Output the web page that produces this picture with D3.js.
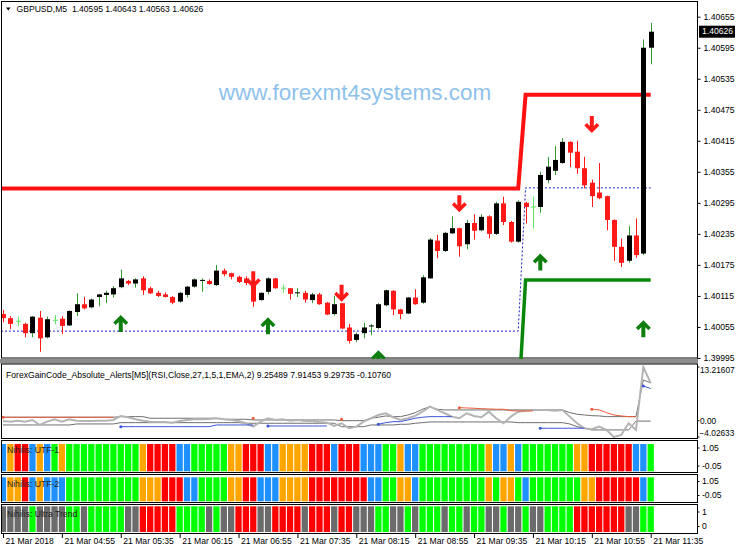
<!DOCTYPE html>
<html><head><meta charset="utf-8">
<script src="https://cdn.jsdelivr.net/npm/d3@7"></script>
<style>
body{margin:0;background:#fff}
svg{display:block}
text{font-family:"Liberation Sans",Arial,sans-serif;font-size:8.6px;fill:#000;white-space:pre}
</style>
</head><body><svg id="c" width="736" height="552"></svg>
<script>
// ---------------- DATA ----------------
const symbolTitle = "GBPUSD,M5  1.40595 1.40643 1.40563 1.40626";
const indicatorTitle = "ForexGainCode_Absolute_Alerts[M5](RSI,Close,27,1,5,1,EMA,2) 9.25489 7.91453 9.29735 -0.10760";
const watermark = "www.forexmt4systems.com";

const opens = [1.40080,1.40072,1.40066,1.40061,1.40043,1.40073,1.40035,1.40068,1.40071,1.40058,
1.40084,1.40099,1.40093,1.40113,1.40117,1.40118,1.40132,1.40144,1.40139,1.40149,
1.40130,1.40121,1.40118,1.40113,1.40104,1.40117,1.40133,1.40144,1.40144,1.40136,
1.40164,1.40159,1.40152,1.40149,1.40136,1.40107,1.40123,1.40149,1.40130,1.40130,
1.40121,1.40121,1.40107,1.40118,1.40102,1.40080,1.40101,1.40054,1.40030,1.40043,
1.40057,1.40053,1.40097,1.40125,1.40089,1.40081,1.40112,1.40102,1.40149,1.40222,
1.40202,1.40236,1.40246,1.40215,1.40256,1.40242,1.40269,1.40235,1.40294,1.40258,
1.40220,1.40295,1.40287,1.40287,1.40339,1.40357,1.40372,1.40413,1.40394,1.40362,
1.40334,1.40315,1.40308,1.40262,1.40210,1.40183,1.40232,1.40197,1.40595];
const highs = [1.40088,1.40076,1.40075,1.40063,1.40076,1.40086,1.40075,1.40078,1.40076,1.40087,
1.40120,1.40113,1.40110,1.40119,1.40125,1.40134,1.40166,1.40146,1.40149,1.40153,
1.40133,1.40125,1.40122,1.40115,1.40123,1.40134,1.40149,1.40149,1.40147,1.40175,
1.40168,1.40160,1.40154,1.40153,1.40152,1.40122,1.40151,1.40150,1.40137,1.40130,
1.40130,1.40125,1.40121,1.40121,1.40103,1.40115,1.40101,1.40061,1.40044,1.40063,
1.40061,1.40101,1.40127,1.40126,1.40090,1.40113,1.40128,1.40155,1.40227,1.40233,
1.40239,1.40269,1.40247,1.40262,1.40273,1.40273,1.40271,1.40297,1.40307,1.40260,
1.40300,1.40297,1.40307,1.40355,1.40384,1.40405,1.40420,1.40414,1.40415,1.40384,
1.40340,1.40372,1.40309,1.40263,1.40226,1.40250,1.40265,1.40611,1.40643];
const lows = [1.40064,1.40051,1.40057,1.40035,1.40035,1.40007,1.40033,1.40060,1.40041,1.40057,
1.40076,1.40089,1.40091,1.40095,1.40101,1.40112,1.40130,1.40136,1.40131,1.40117,
1.40119,1.40113,1.40112,1.40099,1.40102,1.40112,1.40131,1.40123,1.40137,1.40134,
1.40153,1.40147,1.40140,1.40136,1.40094,1.40106,1.40118,1.40129,1.40121,1.40108,
1.40113,1.40102,1.40101,1.40098,1.40078,1.40077,1.40051,1.40023,1.40026,1.40033,
1.40039,1.40051,1.40095,1.40078,1.40070,1.40080,1.40098,1.40100,1.40148,1.40188,
1.40200,1.40235,1.40191,1.40205,1.40224,1.40240,1.40226,1.40233,1.40252,1.40218,
1.40218,1.40255,1.40245,1.40276,1.40333,1.40349,1.40371,1.40364,1.40351,1.40323,
1.40287,1.40302,1.40242,1.40183,1.40171,1.40179,1.40189,1.40194,1.40563];
const closes = [1.40072,1.40061,1.40066,1.40043,1.40075,1.40033,1.40070,1.40068,1.40057,1.40086,
1.40099,1.40091,1.40108,1.40118,1.40121,1.40130,1.40149,1.40139,1.40147,1.40126,
1.40120,1.40115,1.40113,1.40102,1.40121,1.40133,1.40147,1.40146,1.40138,1.40164,
1.40157,1.40152,1.40142,1.40140,1.40104,1.40121,1.40149,1.40130,1.40130,1.40119,
1.40122,1.40108,1.40118,1.40099,1.40079,1.40099,1.40052,1.40028,1.40041,1.40054,
1.40058,1.40099,1.40126,1.40089,1.40080,1.40112,1.40099,1.40151,1.40224,1.40202,
1.40237,1.40246,1.40211,1.40256,1.40241,1.40268,1.40235,1.40294,1.40258,1.40220,
1.40297,1.40287,1.40287,1.40349,1.40365,1.40378,1.40413,1.40392,1.40362,1.40329,
1.40308,1.40304,1.40262,1.40210,1.40179,1.40232,1.40194,1.40595,1.40626];

const resistanceLevel = [1.40323,1.40323,1.40323,1.40323,1.40323,1.40323,1.40323,1.40323,1.40323,1.40323,
1.40323,1.40323,1.40323,1.40323,1.40323,1.40323,1.40323,1.40323,1.40323,1.40323,
1.40323,1.40323,1.40323,1.40323,1.40323,1.40323,1.40323,1.40323,1.40323,1.40323,
1.40323,1.40323,1.40323,1.40323,1.40323,1.40323,1.40323,1.40323,1.40323,1.40323,
1.40323,1.40323,1.40323,1.40323,1.40323,1.40323,1.40323,1.40323,1.40323,1.40323,
1.40323,1.40323,1.40323,1.40323,1.40323,1.40323,1.40323,1.40323,1.40323,1.40323,
1.40323,1.40323,1.40323,1.40323,1.40323,1.40323,1.40323,1.40323,1.40323,1.40323,
1.40323,1.40504,1.40504,1.40504,1.40504,1.40504,1.40504,1.40504,1.40504,1.40504,
1.40504,1.40504,1.40504,1.40504,1.40504,1.40504,1.40504,1.40504,1.40504];
const supportLevel = [null,null,null,null,null,null,null,null,null,null,
null,null,null,null,null,null,null,null,null,null,
null,null,null,null,null,null,null,null,null,null,
null,null,null,null,null,null,null,null,null,null,
null,null,null,null,null,null,null,null,null,null,
null,null,null,null,null,null,null,null,null,null,
null,null,null,null,null,null,null,null,null,null,
1.39900,1.40146,1.40146,1.40146,1.40146,1.40146,1.40146,1.40146,1.40146,1.40146,
1.40146,1.40146,1.40146,1.40146,1.40146,1.40146,1.40146,1.40146,1.40146];
const dottedLevel = [1.40047,1.40047,1.40047,1.40047,1.40047,1.40047,1.40047,1.40047,1.40047,1.40047,
1.40047,1.40047,1.40047,1.40047,1.40047,1.40047,1.40047,1.40047,1.40047,1.40047,
1.40047,1.40047,1.40047,1.40047,1.40047,1.40047,1.40047,1.40047,1.40047,1.40047,
1.40047,1.40047,1.40047,1.40047,1.40047,1.40047,1.40047,1.40047,1.40047,1.40047,
1.40047,1.40047,1.40047,1.40047,1.40047,1.40047,1.40047,1.40047,1.40047,1.40047,
1.40047,1.40047,1.40047,1.40047,1.40047,1.40047,1.40047,1.40047,1.40047,1.40047,
1.40047,1.40047,1.40047,1.40047,1.40047,1.40047,1.40047,1.40047,1.40047,1.40047,
1.40047,1.40324,1.40324,1.40324,1.40324,1.40324,1.40324,1.40324,1.40324,1.40324,
1.40324,1.40324,1.40324,1.40324,1.40324,1.40324,1.40324,1.40324,1.40324];

const upArrowBars = [17,37,52,74,88];
const upArrowPrices = [1.40078,1.40074,1.40010,1.40197,1.40068];
const downArrowBars = [35,47,63,81];
const downArrowPrices = [1.40130,1.40104,1.40277,1.40430];

const priceTicks = [1.40655,1.40595,1.40535,1.40475,1.40415,1.40355,1.40295,1.40235,1.40175,1.40115,1.40055,1.39995];
const lastPrice = 1.40626;

const timeTickBars = [1,9,17,25,33,41,49,57,65,73,81,89];
const timeLabels = ["21 Mar 2018","21 Mar 04:55","21 Mar 05:35","21 Mar 06:15","21 Mar 06:55","21 Mar 07:35",
"21 Mar 08:15","21 Mar 08:55","21 Mar 09:35","21 Mar 10:15","21 Mar 10:55","21 Mar 11:35"];

// oscillator sub-window
const oscMain = [-0.07,-0.25,0,-0.25,0.17,-1.06,-0.25,0.34,-0.25,0.34,
0,-0.07,-0.07,0,0,0.17,1.16,0.84,0.34,0,
-0.25,-0.32,-0.32,-0.49,-0.07,0.17,0.34,0.34,0.42,0.59,
0.34,0.17,-0.07,-0.64,-1.48,-0.25,0.59,0.17,0.34,0,
0.17,-0.07,-0.07,-0.32,-0.49,-1.31,-0.64,-1.87,-1.48,-0.25,
0.59,1.40,1.82,0.84,0.17,0.59,1.16,2.22,3.45,2.64,
1.82,0.99,0.59,1.82,1.16,0.84,2.22,0.59,-0.64,0.99,
2.22,2.46,2.64,2.64,2.64,2.46,2.64,0.99,-0.64,-1.87,
-2.12,-1.48,-2.29,-4.03,-3.52,-0.64,-2.29,13.22,9.25];
const oscUpper = [0.84,0.84,0.84,0.84,0.84,0.84,0.84,0.84,0.84,0.84,
0.84,0.84,0.84,0.84,0.84,0.84,0.99,0.99,0.99,0.99,
0.59,0.59,0.59,0.59,0.59,0.59,0.59,0.59,0.59,0.59,
0.34,0.34,0.34,0.34,0.17,0.17,0.17,0.17,0.17,0.17,
0.17,0.17,0.17,0.17,0.17,0.17,0,0,0,0,
0.59,0.84,1.16,0.99,0.99,1.40,1.97,2.81,3.45,2.81,
2.64,2.64,2.64,2.64,2.64,2.64,2.64,2.64,2.64,2.64,
2.64,2.64,2.64,2.64,2.64,2.64,2.64,1.97,1.58,1.40,
1.23,1.16,0.99,0.99,0.99,0.99,0.99,10.02,9.30];
const oscLower = [-1.06,-1.06,-1.06,-1.06,-1.06,-1.06,-1.06,-1.06,-1.06,-1.06,
-0.81,-0.81,-0.81,-0.81,-0.81,-0.81,-0.49,-0.49,-0.49,-0.49,
-0.49,-0.49,-0.49,-0.49,-0.49,-0.49,-0.49,-0.49,-0.49,-0.49,
-0.49,-0.49,-0.49,-0.64,-0.64,-0.64,-0.64,-0.64,-0.64,-0.64,
-0.64,-0.64,-0.64,-0.64,-0.64,-0.64,-1.48,-1.48,-1.48,-1.48,
-1.06,-1.06,-1.06,-1.06,-0.89,-0.89,-0.64,-0.49,-0.32,-0.32,
-0.32,-0.32,-0.32,-0.32,-0.32,-0.32,-0.32,-0.32,-0.32,-0.32,
-0.49,-0.49,-0.49,-0.49,-0.49,-0.49,-0.49,-0.81,-1.48,-1.87,
-2.29,-2.29,-2.29,-2.29,-2.29,-2.29,-0.11,-0.11,-0.11];
const oscSell = [0.84,0.84,0.84,0.84,0.84,0.84,0.84,0.84,0.84,0.84,
0.84,0.84,0.84,0.84,0.84,0.84,null,null,null,null,
null,null,null,null,null,null,null,null,null,null,
null,null,null,null,0.59,null,null,null,null,null,
null,null,null,null,null,null,0.34,null,null,null,
null,null,null,null,null,null,null,null,null,null,
null,null,3.20,3.13,3.05,2.96,2.88,2.81,2.81,2.46,
2.39,2.39,2.39,null,null,null,null,null,null,null,
2.81,2.64,1.97,1.40,1.16,0.99,0.99,null,null];
const oscBuy = [null,null,null,null,null,null,null,null,null,null,
null,null,null,null,null,null,-1.48,-1.48,-1.48,-1.48,
-1.48,-1.48,-1.48,-1.48,-1.48,-1.48,-1.48,-1.48,-1.48,-1.06,
-1.06,-1.06,-1.06,-1.06,-1.06,null,-1.31,-1.31,-1.31,-1.31,
-1.31,-1.31,-1.31,-1.31,-1.31,null,null,null,null,null,
null,-0.89,-0.49,-0.25,-0.25,0.17,0.59,0.84,0.99,0.99,
0.99,0.99,null,null,null,null,null,null,null,null,
null,null,null,-1.87,-1.87,-1.87,-1.87,-1.87,-1.87,-1.87,
null,null,null,null,null,null,null,8.55,7.91];
const oscMax = 13.21607, oscMin = -4.02633;

// histogram sub-windows: G=green R=red O=orange B=blue Y=grey
const utf1Colors = "BORRBOBGO"+"GGGGGGGGGG"+"O"+"RRRR"+"BB"+"GGGGG"+"OO"+"RRR"+"BB"+"OOOO"+"RRR"+"B"+"RRR"+"B"
 +"BB"+"GG"+"O"+"BB"+"GGGGGGGGG"+"O"+"BB"+"O"+"B"+"GGGGGGG"+"OO"+"RRRRRR"+"BB"+"G";
const utf2Colors = "BOORBOBBB"+"GGGGGGGGGG"+"OOO"+"RRR"+"BB"+"GGGG"+"OO"+"RR"+"BBB"+"OOOO"+"RRRRRRRR"
 +"BB"+"GG"+"OO"+"B"+"GGGGGGGGG"+"O"+"G"+"OO"+"G"+"B"+"GGGGGGG"+"OO"+"RRRRRR"+"B"+"G";
const ultraColors = "YYYY"+"G"+"YYYY"+"GG"+"Y"+"GGGGG"+"YY"+"RRRRR"+"GGGG"+"Y"+"G"+"YY"+"RRR"+"YY"+"RRRR"+"Y"+"RRR"+"Y"+"RR"+"YY"
 +"Y"+"GG"+"YY"+"G"+"Y"+"GGG"+"Y"+"GG"+"Y"+"GG"+"YY"+"G"+"YY"+"G"+"YY"+"GGGG"+"RRRRRRR"+"YY"+"GG";
const histColor = {G:"#00ff00",R:"#ff0000",O:"#ffa500",B:"#1e90ff",Y:"#6b6b6b"};

// ---------------- DRAW ----------------
const svg = d3.select("#c");
const N = opens.length;
const idx = d3.range(1, N + 1);
const R = 697.5, L = 1.5;

const x = d3.scaleLinear().domain([1, N]).range([3, 650.7]);
const y = d3.scaleLinear().domain([1.39995, 1.40655]).range([358, 16.7]);
const yo = d3.scaleLinear().domain([oscMin, oscMax]).range([437, 367]);

const defs = svg.append("defs");
defs.append("clipPath").attr("id","mainClip").append("rect").attr("x",2).attr("y",2).attr("width",695).attr("height",357);
defs.append("clipPath").attr("id","oscClip").append("rect").attr("x",2).attr("y",364).attr("width",695).attr("height",74);

// main frame
svg.append("rect").attr("x",L).attr("y",L).attr("width",R-L).attr("height",358-L).attr("fill","#fff").attr("stroke","#000");
const main = svg.append("g").attr("clip-path","url(#mainClip)");

// watermark
main.append("text").attr("x",355).attr("y",100).attr("text-anchor","middle")
  .style("font-size","22.5px").style("fill","#8ec2ec").text(watermark);

// level lines
const lvl = arr => d3.line().defined(i => arr[i-1] != null).x(i => x(i)).y(i => y(arr[i-1]));
main.append("path").attr("d", "M" + (x(1)-2) + "," + y(dottedLevel[0]) + lvl(dottedLevel)(idx).replace(/^M/,"L"))
  .attr("fill","none").attr("stroke","#2020c0").attr("stroke-width",1).attr("stroke-dasharray","2,2");
main.append("path").attr("d", "M" + (x(1)-2) + "," + y(resistanceLevel[0]) + lvl(resistanceLevel)(idx).replace(/^M/,"L"))
  .attr("fill","none").attr("stroke","#ff1111").attr("stroke-width",4);
main.append("path").attr("d", lvl(supportLevel)(idx))
  .attr("fill","none").attr("stroke","#0a870a").attr("stroke-width",3.5);

// candles
const cg = main.append("g");
idx.forEach(i => {
  const o = opens[i-1], h = highs[i-1], l = lows[i-1], c = closes[i-1];
  const cx = Math.round(x(i)) + 0.5;
  const doji = o === c;
  const bull = c > o;
  const wickCol = doji ? "#5ee65e" : (bull ? "#2f9a2f" : "#ff1a1a");
  cg.append("line").attr("x1",cx).attr("x2",cx).attr("y1",y(h)).attr("y2",y(l)).attr("stroke",wickCol).attr("stroke-width",1);
  if (doji) {
    cg.append("line").attr("x1",cx-2.5).attr("x2",cx+2.5).attr("y1",y(o)).attr("y2",y(o)).attr("stroke",wickCol);
  } else {
    const top = y(Math.max(o,c)), bot = y(Math.min(o,c));
    cg.append("rect").attr("x",cx-2.5).attr("y",top).attr("width",5).attr("height",Math.max(1,bot-top))
      .attr("fill", bull ? "#000" : "#ff1a1a");
  }
});

// arrows
const upShape = "M0,0 L7.5,7.5 L5,10 L2,7 L2,17 L-2,17 L-2,7 L-5,10 L-7.5,7.5 Z";
const downShape = "M0,0 L7.5,-7.5 L5,-10 L2,-7 L2,-17 L-2,-17 L-2,-7 L-5,-10 L-7.5,-7.5 Z";
upArrowBars.forEach((b,k) => {
  main.append("path").attr("d",upShape).attr("transform",`translate(${x(b)},${y(upArrowPrices[k])})`).attr("fill","#0e7f0e");
});
downArrowBars.forEach((b,k) => {
  main.append("path").attr("d",downShape).attr("transform",`translate(${x(b)},${y(downArrowPrices[k])})`).attr("fill","#ff1a1a");
});

// header
svg.append("path").attr("d","M6,7.5 L10.6,7.5 L8.3,10.5 Z").attr("fill","#000");
svg.append("text").attr("x",16.5).attr("y",12).text(symbolTitle);

// price axis
const pAxis = svg.append("g").attr("transform",`translate(${R},0)`)
  .call(d3.axisRight(y).tickValues(priceTicks).tickSize(3).tickPadding(3).tickFormat(d3.format(".5f")));
pAxis.select(".domain").remove();
pAxis.selectAll("text").style("font-size","8.6px").attr("dy","0.32em");
pAxis.selectAll("line").attr("stroke","#000");
// last price label
svg.append("rect").attr("x",699).attr("y",y(lastPrice)-6).attr("width",36).attr("height",12).attr("fill","#000");
svg.append("text").attr("x",702).attr("y",y(lastPrice)).attr("dy","0.32em").style("fill","#fff").text(d3.format(".5f")(lastPrice));

// separator
svg.append("rect").attr("x",0).attr("y",359).attr("width",R+0.5).attr("height",4.5).attr("fill","#8c8c8c");

// oscillator window
svg.append("rect").attr("x",L).attr("y",364).attr("width",R-L).attr("height",74.5).attr("fill","#fff").attr("stroke","#000");
const osc = svg.append("g").attr("clip-path","url(#oscClip)");
const oLine = arr => d3.line().defined(i => arr[i-1] != null).x(i => x(i)).y(i => yo(arr[i-1]));
osc.append("path").attr("d",oLine(oscUpper)(idx)).attr("fill","none").attr("stroke","#6e6e6e").attr("stroke-width",1);
osc.append("path").attr("d",oLine(oscLower)(idx)).attr("fill","none").attr("stroke","#6e6e6e").attr("stroke-width",1);
osc.append("path").attr("d",oLine(oscMain)(idx)).attr("fill","none").attr("stroke","#b4b4b4").attr("stroke-width",2);
[[oscSell,"#ec5a3c"],[oscBuy,"#3a55d8"]].forEach(([arr,col]) => {
  osc.append("path").attr("d",oLine(arr)(idx)).attr("fill","none").attr("stroke",col).attr("stroke-width",1);
  idx.filter(i => arr[i-1] != null && (i === 1 || arr[i-2] == null)).forEach(i => {
    osc.append("circle").attr("cx",x(i)).attr("cy",yo(arr[i-1])).attr("r",1.5).attr("fill",col);
  });
});
svg.append("text").attr("x",6).attr("y",378).text(indicatorTitle);
svg.append("text").attr("x",700).attr("y",yo(oscMax)+3).attr("dy","0.32em").style("font-size","8.3px").text(d3.format(".5f")(oscMax));
svg.append("text").attr("x",700).attr("y",yo(0)+1).attr("dy","0.32em").style("font-size","8.3px").text("0.00");
svg.append("text").attr("x",699.5).attr("y",yo(oscMin)-3.7).attr("dy","0.32em").style("font-size","8.3px").text(d3.format(".5f")(oscMin));
[oscMax,0,oscMin].forEach(v => svg.append("line").attr("x1",R).attr("x2",R+2).attr("y1",yo(v)).attr("y2",yo(v)).attr("stroke","#000"));

// histogram windows
const panels = [
  {colors:utf1Colors, name:"Nihilis: UTF-1", top:440.5, bottom:472.5, barTop:444, barBot:471.3, labels:["1.05","-0.05"], labelY:[448,466], nameY:452.5},
  {colors:utf2Colors, name:"Nihilis: UTF-2", top:474.5, bottom:502.5, barTop:477.3, barBot:501.3, labels:["1.05","-0.05"], labelY:[481.5,495.5], nameY:486.5},
  {colors:ultraColors, name:"Nihilis: Ultra Trend", top:504.5, bottom:533.5, barTop:506.3, barBot:532, labels:["1","0"], labelY:[512,526.5], nameY:516.5}
];
panels.forEach(p => {
  svg.append("rect").attr("x",L).attr("y",p.top).attr("width",R-L).attr("height",p.bottom-p.top).attr("fill","#fff").attr("stroke","#000");
  const hy = d3.scaleLinear().domain([0,1]).range([p.barBot,p.barTop]);
  const g = svg.append("g");
  idx.forEach(i => {
    const cx = x(i);
    const x0 = Math.max(2, cx-3.15), x1 = Math.min(697, cx+3.15);
    g.append("rect").attr("x",x0).attr("y",hy(1)).attr("width",x1-x0).attr("height",hy(0)-hy(1))
      .attr("fill",histColor[p.colors[i-1]]);
  });
  svg.append("text").attr("x",7).attr("y",p.nameY).style("fill","#222").text(p.name);
  p.labels.forEach((t,k) => {
    svg.append("text").attr("x",702).attr("y",p.labelY[k]).attr("dy","0.32em").text(t);
    svg.append("line").attr("x1",R).attr("x2",R+2).attr("y1",p.labelY[k]).attr("y2",p.labelY[k]).attr("stroke","#000");
  });
});

// time axis
const tAxis = svg.append("g").attr("transform","translate(0,534)")
  .call(d3.axisBottom(x).tickValues(timeTickBars).tickSize(4).tickPadding(0).tickFormat((d,k) => timeLabels[k]));
tAxis.select(".domain").remove();
tAxis.selectAll("line").attr("stroke","#000");
tAxis.selectAll("text").style("font-size","8.6px").attr("text-anchor","start").attr("x",2).attr("y",4).attr("dy","0.71em");
</script>
</body></html>
